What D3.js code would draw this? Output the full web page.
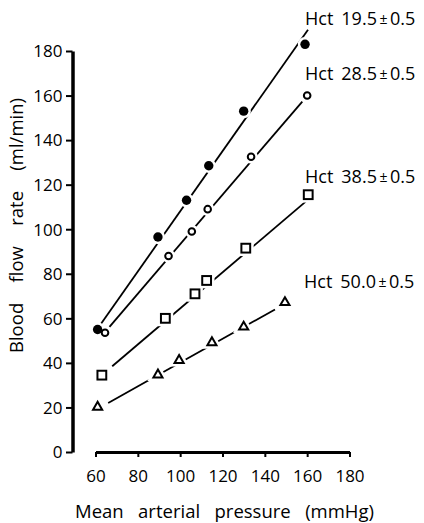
<!DOCTYPE html>
<html>
<head>
<meta charset="utf-8">
<script src="https://cdn.jsdelivr.net/npm/d3@7"></script>
<style>
  html, body { margin: 0; padding: 0; background: #fff; }
  svg { display: block; }
  text { font-family: "Open Sans", "DejaVu Sans", sans-serif; font-weight: 500; fill: #000; }
</style>
</head>
<body>
<svg id="chart" width="424" height="523"></svg>
<script>
// Axis ticks
const xTicks = [60, 80, 100, 120, 140, 160, 180];
const yTicks = [0, 20, 40, 60, 80, 100, 120, 140, 160, 180];

// Series labels (haematocrit groups)
const hctLabels = ["19.5", "28.5", "38.5", "50.0"];
const hctSpread = "0.5";

// Mean arterial pressure (mmHg) and blood flow rate (ml/min) per group
const pressureHct195 = [61, 89.5, 103, 113.5, 130, 159];
const flowHct195     = [55, 96.5, 113, 128.5, 153, 183];
const pressureHct285 = [64.5, 94.5, 105.5, 113, 133.5, 160];
const flowHct285     = [53.5, 88, 99, 109, 132.5, 160];
const pressureHct385 = [63, 93, 107, 112.5, 131, 160.5];
const flowHct385     = [34.5, 60, 71, 77, 91.5, 115.5];
const pressureHct500 = [61, 89.5, 99.5, 115, 130, 149.5];
const flowHct500     = [20.5, 35, 41.5, 49.5, 56.5, 67.5];

// Fitted line ends [start, end] per group
const fitPressure = [[62.7, 160.4], [66.6, 157.7], [67.9, 159.3], [66, 144.8]];
const fitFlow     = [[57.7, 189.5], [56.2, 157.3], [38.5, 112.4], [22, 64]];

const markerKinds = ["filledCircle", "openCircle", "square", "triangle"];

const svg = d3.select("#chart");
const x = d3.scaleLinear().domain([60, 180]).range([95.5, 349.5]);
const y = d3.scaleLinear().domain([0, 180]).range([452, 51]);
const yAxisX = 72.5;
const tickFont = 17;

// Y axis
const yAxis = svg.append("g")
  .attr("transform", `translate(${yAxisX},0)`)
  .call(d3.axisLeft(y).tickValues(yTicks).tickSize(6.5).tickSizeOuter(0).tickPadding(3.5));
yAxis.select(".domain").attr("stroke", "#000").attr("stroke-width", 3.5);
yAxis.selectAll(".tick line").attr("stroke", "#000").attr("stroke-width", 2);
yAxis.selectAll(".tick text").attr("font-size", tickFont).attr("font-family", null)
  .attr("fill", "#000").attr("dy", "0.34em");

// X axis
const xAxis = svg.append("g")
  .attr("transform", `translate(0,${y(0)})`)
  .call(d3.axisBottom(x).tickValues(xTicks).tickSize(5).tickSizeOuter(0).tickPadding(12.5));
xAxis.select(".domain").attr("stroke", "#000").attr("stroke-width", 3);
xAxis.selectAll(".tick line").attr("stroke", "#000").attr("stroke-width", 2);
xAxis.selectAll(".tick text").attr("font-size", tickFont).attr("font-family", null).attr("fill", "#000");

// Axis titles, spread to their printed widths
function spreadWords(sel, target) {
  const natural = sel.node().getComputedTextLength();
  const gaps = (sel.text().match(/ /g) || []).length;
  if (gaps) sel.attr("word-spacing", (target - natural) / gaps);
}
const xTitle = svg.append("text")
  .attr("x", 224.5).attr("y", 518)
  .attr("text-anchor", "middle").attr("font-size", 18.5)
  .text("Mean arterial pressure (mmHg)");
spreadWords(xTitle, 299);

const yTitle = svg.append("text")
  .attr("transform", "translate(23,225.5) rotate(-90)")
  .attr("text-anchor", "middle").attr("font-size", 18.5)
  .text("Blood flow rate (ml/min)");
spreadWords(yTitle, 255);

// Series
const groups = [
  { p: pressureHct195, f: flowHct195 },
  { p: pressureHct285, f: flowHct285 },
  { p: pressureHct385, f: flowHct385 },
  { p: pressureHct500, f: flowHct500 }
];

// Fitted lines
groups.forEach((g, i) => {
  svg.append("line")
    .attr("x1", x(fitPressure[i][0])).attr("y1", y(fitFlow[i][0]))
    .attr("x2", x(fitPressure[i][1])).attr("y2", y(fitFlow[i][1]))
    .attr("stroke", "#000").attr("stroke-width", 1.8);
});

const triangle = d3.symbol().type(d3.symbolTriangle).size(36);

function drawMarker(layer, kind, cx, cy, halo) {
  const stroke = halo ? "#fff" : "#000";
  const extra = halo ? 5 : 0;
  if (kind === "filledCircle") {
    layer.append("circle").attr("cx", cx).attr("cy", cy).attr("r", 4.7)
      .attr("fill", halo ? "#fff" : "#000")
      .attr("stroke", halo ? "#fff" : "none").attr("stroke-width", extra);
  } else if (kind === "openCircle") {
    layer.append("circle").attr("cx", cx).attr("cy", cy).attr("r", 3.3)
      .attr("fill", "#fff").attr("stroke", stroke).attr("stroke-width", 2 + extra);
  } else if (kind === "square") {
    layer.append("rect").attr("x", cx - 4.4).attr("y", cy - 4.4)
      .attr("width", 8.8).attr("height", 8.8)
      .attr("fill", "#fff").attr("stroke", stroke).attr("stroke-width", 2 + extra);
  } else {
    layer.append("path").attr("d", triangle)
      .attr("transform", `translate(${cx},${cy + 0.8})`)
      .attr("fill", "#fff").attr("stroke", stroke).attr("stroke-width", 2 + extra)
      .attr("stroke-linejoin", "miter");
  }
}

// White gaps in the lines around every marker, then the markers
const haloLayer = svg.append("g");
const markLayer = svg.append("g");
groups.forEach((g, i) => {
  g.p.forEach((pv, j) => {
    drawMarker(haloLayer, markerKinds[i], x(pv), y(g.f[j]), true);
    drawMarker(markLayer, markerKinds[i], x(pv), y(g.f[j]), false);
  });
});

// Group labels
const labelPos = [[305, 25], [305, 80], [305, 183], [304, 288]];
hctLabels.forEach((h, i) => {
  const t = svg.append("text")
    .attr("x", labelPos[i][0]).attr("y", labelPos[i][1])
    .attr("font-size", 18);
  t.append("tspan").text("Hct");
  t.append("tspan").attr("dx", 8).text(h);
  t.append("tspan").attr("dx", 2.5).attr("font-size", 14).attr("dy", -1.5).text("±");
  t.append("tspan").attr("dx", 2.5).attr("dy", 1.5).text(hctSpread);
});
</script>
</body>
</html>
